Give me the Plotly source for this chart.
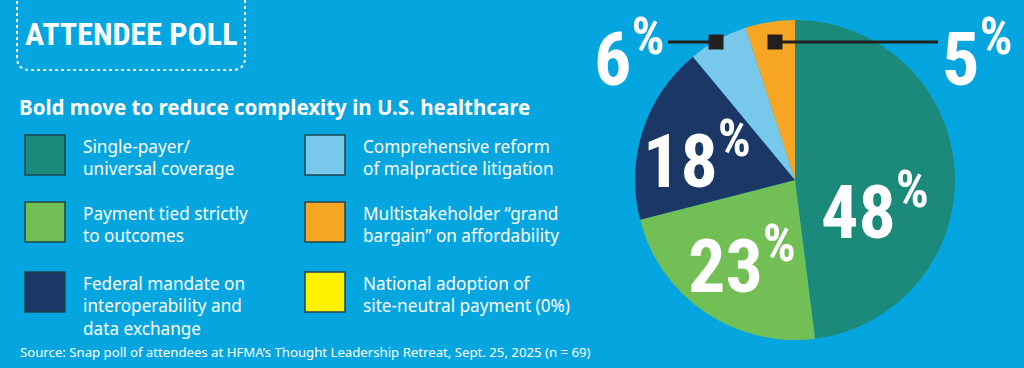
import plotly.graph_objects as go

# ---------------- data ----------------
categories = [
    "Single-payer/ universal coverage",
    "Payment tied strictly to outcomes",
    "Federal mandate on interoperability and data exchange",
    "Comprehensive reform of malpractice litigation",
    "Multistakeholder “grand bargain” on affordability",
    "National adoption of site-neutral payment (0%)",
]
values = [48, 23, 18, 6, 5, 0]
colors = ["#1b8a7a", "#72bf55", "#1b3765", "#78c8ec", "#f6a623", "#fff200"]
legend_lines = [
    ["Single-payer/", "universal coverage"],
    ["Payment tied strictly", "to outcomes"],
    ["Federal mandate on", "interoperability and", "data exchange"],
    ["Comprehensive reform", "of malpractice litigation"],
    ["Multistakeholder “grand", "bargain” on affordability"],
    ["National adoption of", "site-neutral payment (0%)"],
]
title_text = "ATTENDEE POLL"
subtitle_text = "Bold move to reduce complexity in U.S. healthcare"
source_text = "Source: Snap poll of attendees at HFMA’s Thought Leadership Retreat, Sept. 25, 2025 (n = 69)"

# ---------------- layout helpers ----------------
W, H = 1024, 368
BG = "#05a6df"
def px(x):
    return x / W
def py(y):
    return 1 - y / H

COND = "Liberation Sans Narrow, Roboto Condensed, DejaVu Sans Condensed, Arial Narrow, sans-serif"
BODY = "Noto Sans, Open Sans, sans-serif"

fig = go.Figure()
fig.add_trace(go.Pie(
    values=values,
    labels=categories,
    marker=dict(colors=colors, line=dict(width=0)),
    sort=False,
    direction="clockwise",
    rotation=0,
    textinfo="none",
    hoverinfo="label+percent",
    showlegend=False,
    domain=dict(x=[px(635), px(955)], y=[py(340), py(20)]),
))

annotations = []
shapes = []

# title box (dotted, rounded bottom corners)
x0, x1, yb, r = 17, 245, 70, 13
path = (f"M {px(x0)},{py(-5)} L {px(x0)},{py(yb - r)} "
        f"Q {px(x0)},{py(yb)} {px(x0 + r)},{py(yb)} "
        f"L {px(x1 - r)},{py(yb)} Q {px(x1)},{py(yb)} {px(x1)},{py(yb - r)} "
        f"L {px(x1)},{py(-5)}")
shapes.append(dict(type="path", path=path, xref="paper", yref="paper",
                   line=dict(color="white", width=2, dash="dot")))
annotations.append(dict(text=title_text, x=px(131), y=py(34), xref="paper", yref="paper",
                        xanchor="center", yanchor="middle", showarrow=False, borderpad=0,
                        font=dict(family=COND, size=32, color="white", weight="bold")))

# subtitle
annotations.append(dict(text=f"<b>{subtitle_text}</b>", x=px(18), y=py(107), xref="paper", yref="paper",
                        xanchor="left", yanchor="middle", showarrow=False, borderpad=0,
                        font=dict(family=BODY, size=20.5, color="white")))

# legend (two columns, three rows)
col_x = [25, 305]
row_top = [135, 202, 272]
for i, lines in enumerate(legend_lines):
    c = 0 if i < 3 else 1
    rr = i % 3
    sx = col_x[c]
    sy = row_top[rr]
    shapes.append(dict(type="rect", xref="paper", yref="paper",
                       x0=px(sx), x1=px(sx + 40), y0=py(sy), y1=py(sy + 40),
                       fillcolor=colors[i], line=dict(color="#1d4450", width=1.5)))
    annotations.append(dict(text="<br>".join(lines), x=px(sx + 57), y=py(sy - 1),
                            xref="paper", yref="paper", align="left",
                            xanchor="left", yanchor="top", showarrow=False, borderpad=0,
                            font=dict(family=BODY, size=17.2, color="white")))

# source
annotations.append(dict(text=source_text, x=px(19), y=py(352), xref="paper", yref="paper",
                        xanchor="left", yanchor="middle", showarrow=False, borderpad=0,
                        font=dict(family=BODY, size=13.2, color="white")))

# pie value labels
label_pos = {0: (875, 208), 1: (742, 261), 2: (697, 157), 3: (629, 55), 4: (977, 55)}
for i, (lx, ly) in label_pos.items():
    annotations.append(dict(text=f"{values[i]}<sup>%</sup>", x=px(lx), y=py(ly),
                            xref="paper", yref="paper", xanchor="center", yanchor="middle",
                            showarrow=False, borderpad=0,
                            font=dict(family=COND, size=74, color="white", weight="bold")))

# connectors for the small slices
LINE = "#231f20"
for (lx0, lx1, sq) in [(668, 716, 716), (775, 938, 775)]:
    shapes.append(dict(type="line", xref="paper", yref="paper",
                       x0=px(lx0), x1=px(lx1), y0=py(42), y1=py(42),
                       line=dict(color=LINE, width=3)))
    shapes.append(dict(type="rect", xref="paper", yref="paper",
                       x0=px(sq - 7.5), x1=px(sq + 7.5), y0=py(34.5), y1=py(49.5),
                       fillcolor=LINE, line=dict(width=0)))

fig.update_layout(
    width=W, height=H,
    margin=dict(l=0, r=0, t=0, b=0),
    paper_bgcolor=BG, plot_bgcolor=BG,
    annotations=annotations,
    shapes=shapes,
    showlegend=False,
)

fig.write_html("out.html", config={"displayModeBar": False},
               post_script="document.body.style.margin='0';document.body.style.padding='0';"
                           "document.body.style.background='" + BG + "';"
                           "document.body.style.overflow='hidden';")
